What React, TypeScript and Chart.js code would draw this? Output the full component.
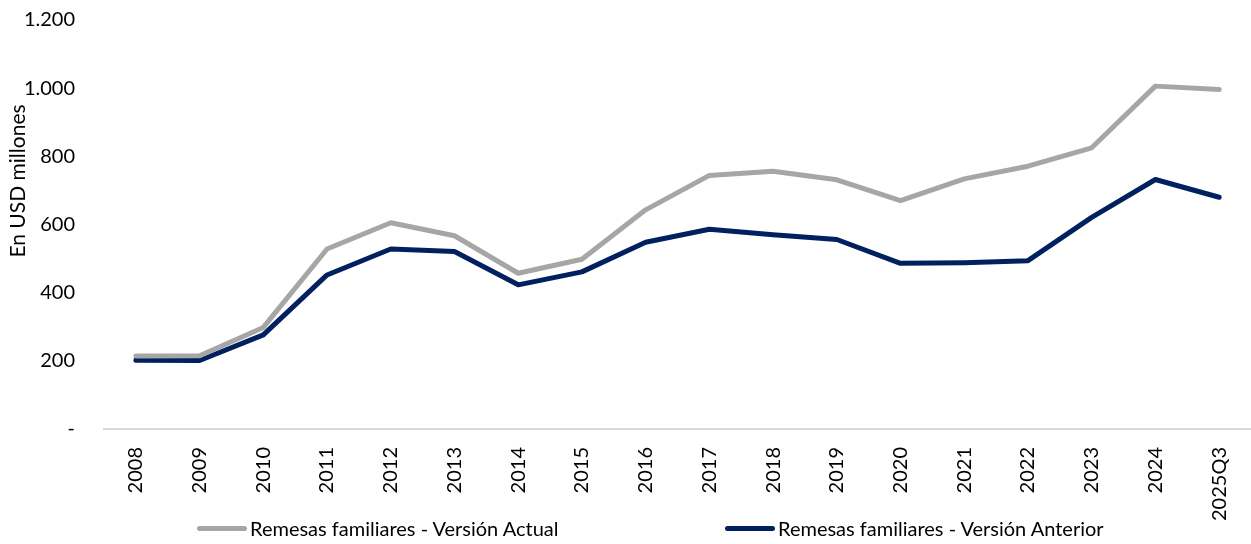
import React, { useEffect, useRef } from "react";
import { Chart, registerables } from "chart.js";

Chart.register(...registerables);

const categories = ["2008","2009","2010","2011","2012","2013","2014","2015","2016","2017","2018","2019","2020","2021","2022","2023","2024","2025Q3"];
const actualValues = [214, 215, 298, 528, 605, 567, 457, 498, 643, 744, 756, 731, 670, 734, 771, 825, 1006, 996];
const previousValues = [202, 201, 276, 452, 528, 521, 423, 461, 548, 586, 570, 556, 486, 488, 494, 621, 732, 680];
const seriesLabels = ["Remesas familiares - Versión Actual", "Remesas familiares - Versión Anterior"];
const seriesColors = ["#A6A6A6", "#002060"];
const yTitle = "En USD millones";
const FONT = "Lato, 'Open Sans', sans-serif";

function formatTick(v: number): string {
  if (v === 0) return "-";
  return String(v).replace(/\B(?=(\d{3})+(?!\d))/g, ".");
}

const yTitlePlugin = {
  id: "yTitlePlugin",
  afterDraw(chart: any) {
    const ctx = chart.ctx;
    ctx.save();
    ctx.translate(18, 181);
    ctx.rotate(-Math.PI / 2);
    ctx.fillStyle = "#000";
    ctx.font = `21px ${FONT}`;
    ctx.textAlign = "center";
    ctx.textBaseline = "middle";
    ctx.fillText(yTitle, 0, 0);
    ctx.restore();
  },
};

export default function App() {
  const canvasRef = useRef<HTMLCanvasElement | null>(null);

  useEffect(() => {
    if (!canvasRef.current) return;
    const chart = new Chart(canvasRef.current, {
      type: "line",
      data: {
        labels: categories,
        datasets: [
          {
            label: seriesLabels[0],
            data: actualValues,
            borderColor: seriesColors[0],
            backgroundColor: seriesColors[0],
            borderWidth: 5,
            pointRadius: 0,
            tension: 0,
            borderCapStyle: "round",
            borderJoinStyle: "round",
          },
          {
            label: seriesLabels[1],
            data: previousValues,
            borderColor: seriesColors[1],
            backgroundColor: seriesColors[1],
            borderWidth: 5,
            pointRadius: 0,
            tension: 0,
            borderCapStyle: "round",
            borderJoinStyle: "round",
          },
        ],
      },
      options: {
        responsive: false,
        maintainAspectRatio: false,
        animation: false,
        layout: { padding: { top: 20, right: 0, bottom: 0, left: 0 } },
        plugins: {
          legend: { display: false },
          tooltip: { enabled: false },
          title: { display: false },
        },
        scales: {
          x: {
            type: "category",
            offset: true,
            grid: { display: false, drawTicks: false },
            border: { display: true, color: "#D9D9D9", width: 2 },
            ticks: {
              color: "#000",
              font: { family: FONT, size: 20 },
              minRotation: 90,
              maxRotation: 90,
              autoSkip: false,
              padding: 18,
            },
            afterFit: (scale: any) => {
              scale.height = 115;
              scale.paddingLeft = 0;
              scale.paddingRight = 0;
            },
          },
          y: {
            min: 0,
            max: 1200,
            grid: { display: false, drawTicks: false },
            border: { display: false },
            ticks: {
              stepSize: 200,
              color: "#000",
              font: { family: FONT, size: 20 },
              padding: 29,
              callback: (v: any) => formatTick(Number(v)),
            },
            afterFit: (scale: any) => {
              scale.width = 104;
              scale.paddingTop = 0;
              scale.paddingBottom = 0;
            },
          },
        },
      },
      plugins: [yTitlePlugin],
    });
    return () => chart.destroy();
  }, []);

  const legendItem = (i: number, left: number) => (
    <div
      key={i}
      style={{
        position: "absolute",
        left,
        top: 516,
        height: 24,
        display: "flex",
        alignItems: "center",
        fontFamily: FONT,
        fontSize: 20,
        color: "#000",
        whiteSpace: "nowrap",
      }}
    >
      <span
        style={{
          display: "inline-block",
          width: 50,
          height: 5,
          borderRadius: 3,
          background: seriesColors[i],
          marginRight: 3,
        }}
      />
      <span>{seriesLabels[i]}</span>
    </div>
  );

  return (
    <div style={{ position: "fixed", left: 0, top: 0, width: 1251, height: 544, background: "#fff" }}>
      <canvas ref={canvasRef} width={1251} height={544} style={{ display: "block" }} />
      {legendItem(0, 197)}
      {legendItem(1, 725)}
    </div>
  );
}
